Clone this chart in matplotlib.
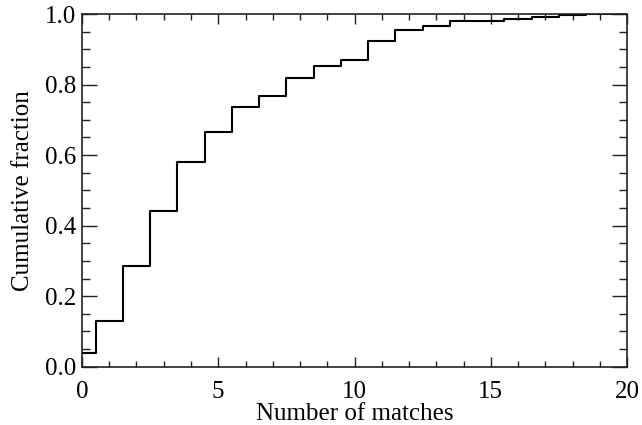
import numpy as np
import matplotlib
matplotlib.use('Agg')
import matplotlib.pyplot as plt
from matplotlib.ticker import MultipleLocator

# number of matches and cumulative fraction
matches = list(range(0, 21))
cum_frac = [0.038, 0.130, 0.285, 0.441, 0.581, 0.666, 0.737, 0.767, 0.819, 0.853,
            0.870, 0.923, 0.955, 0.967, 0.981, 0.981, 0.987, 0.992, 0.997, 1.0, 1.0]

plt.rcParams['font.family'] = ['Liberation Serif', 'DejaVu Serif']

fig = plt.figure(figsize=(6.42, 4.25), dpi=100)
ax = fig.add_axes([0.1277, 0.1372, 0.849, 0.8298])

ax.plot(matches, cum_frac, drawstyle='steps-mid', color='black', lw=1.5)

ax.set_xlim(0, 20)
ax.set_ylim(0, 1.0)
ax.xaxis.set_major_locator(MultipleLocator(5))
ax.xaxis.set_minor_locator(MultipleLocator(1))
ax.yaxis.set_major_locator(MultipleLocator(0.2))
ax.yaxis.set_minor_locator(MultipleLocator(0.05))
ax.set_yticks(np.arange(0, 1.01, 0.2))
ax.set_yticklabels(['%.1f' % v for v in np.arange(0, 1.01, 0.2)])

ax.tick_params(which='both', direction='in', top=True, right=True, labelsize=18, width=1.0, color='#222222')
ax.tick_params(axis='x', which='major', length=7, pad=10)
ax.tick_params(axis='x', which='minor', length=4)
ax.tick_params(axis='y', which='major', length=11, pad=4)
ax.tick_params(axis='y', which='minor', length=5.5)
for s in ax.spines.values():
    s.set_linewidth(1.2)
    s.set_color('#222222')

ax.set_xlabel('Number of matches', fontsize=18, labelpad=0)
ax.set_ylabel('Cumulative fraction', fontsize=18, labelpad=8)

fig.savefig('out.png', dpi=100)
